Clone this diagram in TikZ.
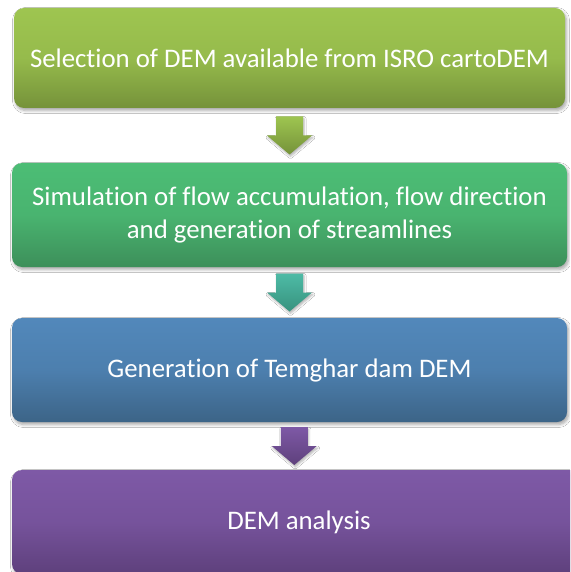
\documentclass[tikz,border=0pt]{standalone}
\usepackage{fontspec}
\setmainfont{Carlito}[RawFeature={-liga;-clig}]
\usetikzlibrary{calc,shadows.blur}

% step colours: top / bottom of each gradient
\definecolor{oliveTop}{RGB}{158,197,80}
\definecolor{oliveBot}{RGB}{117,146,58}
\definecolor{greenTop}{RGB}{76,189,117}
\definecolor{greenBot}{RGB}{61,143,90}
\definecolor{blueTop}{RGB}{82,136,187}
\definecolor{blueBot}{RGB}{60,100,135}
\definecolor{purpleTop}{RGB}{126,89,166}
\definecolor{purpleBot}{RGB}{94,64,124}
\definecolor{tealTop}{RGB}{78,187,166}
\definecolor{tealBot}{RGB}{55,146,126}

\tikzset{
  stepbox/.style={rectangle, rounded corners=10pt, inner sep=0pt,
    text=white, align=center, font=\fontsize{26.8}{33}\selectfont,
    blur shadow={shadow xshift=1.5pt, shadow yshift=-2.5pt,
      shadow blur steps=6, shadow opacity=35, shadow blur radius=3pt}},
  blockarrow/.style={blur shadow={shadow xshift=1pt, shadow yshift=-2pt,
      shadow blur steps=5, shadow opacity=30, shadow blur radius=2pt}},
}

\begin{document}
\begin{tikzpicture}[x=1pt,y=-1pt]
  \clip (0,0) rectangle (570,572);
  \fill[white] (0,0) rectangle (570,572);

  % the four steps
  \node[stepbox, minimum width=551pt, minimum height=100pt,
        top color=oliveTop, bottom color=oliveBot, middle color=oliveTop!80!oliveBot]
        (b1) at (289.5,58) {Selection of DEM available from ISRO cartoDEM};
  \node[stepbox, minimum width=555pt, minimum height=104pt,
        top color=greenTop, bottom color=greenBot, middle color=greenTop!80!greenBot]
        (b2) at (289.5,215) {Simulation of flow accumulation, flow direction\\and generation of streamlines};
  \node[stepbox, minimum width=555pt, minimum height=104pt,
        top color=blueTop, bottom color=blueBot, middle color=blueTop!75!blueBot]
        (b3) at (289.5,370) {Generation of Temghar dam DEM};
  \node[stepbox, minimum width=574pt, minimum height=104pt,
        top color=purpleTop, bottom color=purpleBot, middle color=purpleTop!75!purpleBot]
        (b4) at (299,522) {DEM analysis};

  % block arrows between the steps
  \coordinate (m1) at ($(b1.south)!.5!(b2.north)$);
  \coordinate (m2) at ($(b2.south)!.5!(b3.north)$);
  \coordinate (m3) at ($(b3.south)!.5!(b4.north)$);

  \path[blockarrow, top color=oliveTop, bottom color=oliveBot]
    (m1) ++(-13.5,-19) -- ++(27,0) -- ++(0,19) -- ++(9,0) -- ++(-22.5,19)
    -- ++(-22.5,-19) -- ++(9,0) -- cycle;
  \path[blockarrow, top color=tealTop, bottom color=tealBot]
    (m2) ++(-13.5,-19) -- ++(27,0) -- ++(0,19) -- ++(9,0) -- ++(-22.5,19)
    -- ++(-22.5,-19) -- ++(9,0) -- cycle;
  \path[blockarrow, top color=purpleTop, bottom color=purpleBot]
    (m3) ++(-13.5,-19) -- ++(27,0) -- ++(0,19) -- ++(9,0) -- ++(-22.5,19)
    -- ++(-22.5,-19) -- ++(9,0) -- cycle;
\end{tikzpicture}
\end{document}
